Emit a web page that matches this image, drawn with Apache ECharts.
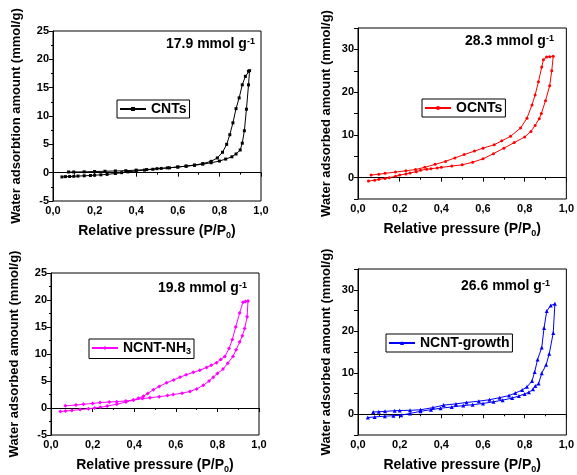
<!DOCTYPE html>
<html>
<head>
<meta charset="utf-8">
<script src="https://cdn.jsdelivr.net/npm/echarts@6/dist/echarts.min.js"></script>
<style>
  html, body { margin: 0; padding: 0; background: #fff; }
  #chart { width: 577px; height: 475px; }
</style>
</head>
<body>
<div id="chart"></div>
<script>
// Datos (P/P0, mmol/g)
const cntsAds = [[0.043,-0.75],[0.06,-0.7],[0.08,-0.68],[0.1,-0.65],[0.12,-0.6],[0.15,-0.55],[0.18,-0.5],[0.2,-0.45],[0.23,-0.38],[0.26,-0.3],[0.3,-0.15],[0.33,0],[0.36,0.15],[0.4,0.3],[0.44,0.45],[0.48,0.6],[0.52,0.75],[0.56,0.85],[0.6,1.0],[0.64,1.15],[0.68,1.3],[0.72,1.5],[0.76,1.75],[0.8,2.05],[0.83,2.4],[0.86,2.8],[0.88,3.3],[0.9,4.0],[0.91,5.2],[0.92,7.4],[0.93,11.2],[0.94,15.5],[0.945,18.0]];
const cntsDes = [[0.94,17.9],[0.925,17.0],[0.91,15.5],[0.895,13.2],[0.88,11.3],[0.865,8.8],[0.85,6.7],[0.835,5.0],[0.815,3.6],[0.79,2.6],[0.76,2.0],[0.72,1.6],[0.68,1.35],[0.64,1.15],[0.6,1.0],[0.55,0.85],[0.5,0.7],[0.45,0.55],[0.4,0.45],[0.35,0.35],[0.3,0.3],[0.25,0.25],[0.2,0.2],[0.15,0.15],[0.1,0.12],[0.075,0.12]];

const ocntsAds = [[0.05,-0.8],[0.08,-0.6],[0.1,-0.4],[0.13,-0.2],[0.15,0.0],[0.18,0.3],[0.2,0.6],[0.23,0.85],[0.25,1.1],[0.28,1.4],[0.3,1.7],[0.33,1.95],[0.35,2.1],[0.38,2.25],[0.4,2.4],[0.45,2.7],[0.5,3.0],[0.55,3.6],[0.6,4.4],[0.65,5.6],[0.7,6.9],[0.75,8.2],[0.8,9.5],[0.83,10.8],[0.85,12.2],[0.87,13.8],[0.88,15.0],[0.9,18.0],[0.92,21.5],[0.93,25.0],[0.937,28.4]];
const ocntsDes = [[0.92,28.3],[0.905,28.2],[0.89,27.6],[0.882,25.9],[0.866,22.4],[0.85,19.3],[0.835,17.0],[0.811,13.9],[0.78,11.6],[0.732,9.65],[0.69,8.6],[0.654,7.7],[0.6,6.9],[0.559,6.2],[0.51,5.4],[0.465,4.6],[0.42,3.8],[0.37,3.1],[0.32,2.4],[0.276,1.9],[0.23,1.6],[0.18,1.3],[0.13,1.0],[0.1,0.8],[0.063,0.6]];

const nh3Ads = [[0.045,-0.65],[0.07,-0.55],[0.1,-0.45],[0.14,-0.3],[0.18,-0.15],[0.21,0.0],[0.237,0.12],[0.27,0.35],[0.316,0.7],[0.36,1.1],[0.396,1.47],[0.44,1.75],[0.476,1.9],[0.52,2.1],[0.56,2.3],[0.588,2.5],[0.63,2.75],[0.668,3.07],[0.7,3.5],[0.732,4.2],[0.76,5.0],[0.78,5.7],[0.8,6.4],[0.827,7.2],[0.85,8.3],[0.875,9.55],[0.89,10.8],[0.907,12.2],[0.92,13.4],[0.931,14.7],[0.943,16.9],[0.947,19.8]];
const nh3Des = [[0.935,19.7],[0.923,19.6],[0.907,17.6],[0.888,15.0],[0.872,12.7],[0.856,11.0],[0.836,9.55],[0.816,9.0],[0.796,8.4],[0.77,7.9],[0.748,7.5],[0.715,7.0],[0.684,6.6],[0.65,6.15],[0.62,5.7],[0.59,5.2],[0.556,4.66],[0.52,4.0],[0.492,3.36],[0.465,2.7],[0.444,2.18],[0.42,1.8],[0.396,1.47],[0.36,1.3],[0.316,1.18],[0.28,1.1],[0.236,1.0],[0.2,0.85],[0.156,0.7],[0.12,0.55],[0.069,0.4]];

const growthAds = [[0.047,-0.8],[0.08,-0.65],[0.129,-0.46],[0.17,-0.35],[0.207,-0.23],[0.25,0.2],[0.3,0.7],[0.35,1.1],[0.396,1.46],[0.45,1.75],[0.505,2.08],[0.55,2.3],[0.6,2.6],[0.65,3.0],[0.694,3.4],[0.74,3.9],[0.772,4.4],[0.8,4.9],[0.82,5.3],[0.84,6.0],[0.851,6.8],[0.867,7.4],[0.882,9.9],[0.903,11.9],[0.918,14.6],[0.937,19.6],[0.945,26.6]];
const growthDes = [[0.925,26.2],[0.906,24.9],[0.893,20.8],[0.882,16.1],[0.862,13.2],[0.848,10.2],[0.835,8.0],[0.811,6.6],[0.788,5.85],[0.755,5.1],[0.725,4.5],[0.68,4.0],[0.631,3.5],[0.58,3.15],[0.521,2.85],[0.47,2.5],[0.411,2.2],[0.36,1.6],[0.3,1.08],[0.25,0.95],[0.2,0.9],[0.176,0.85],[0.13,0.7],[0.1,0.6],[0.073,0.54]];

const sampleNames = ["CNTs", "OCNTs", "NCNT-NH3", "NCNT-growth"];
const sampleColors = ["#000000", "#ff0000", "#ff00ff", "#0000ff"];
const sampleSymbols = ["rect", "circle", "diamond", "triangle"];
const capacityLabels = ["17.9 mmol g", "28.3 mmol g", "19.8 mmol g", "26.6 mmol g"];
const yTitles = [
  "Water adsorbtion amount (mmol/g)",
  "Water adsorbed amount (mmol/g)",
  "Water adsorbed amount (mmol/g)",
  "Water adsorbed amount (mmol/g)"
];
const yMax = [25, 35, 25, 35];

const loops = [
  cntsAds.concat(cntsDes),
  ocntsAds.concat(ocntsDes),
  nh3Ads.concat(nh3Des),
  growthAds.concat(growthDes)
];

const FONT = "Liberation Sans";

// Posición de cada panel
const grids = [
  { left: 53, top: 31, width: 208, height: 170 },
  { left: 358, top: 28, width: 212, height: 171 },
  { left: 51, top: 273, width: 208, height: 169 },
  { left: 358, top: 269, width: 212, height: 172 }
];
const legendPos = [
  { left: 117, top: 100 },
  { left: 422, top: 99 },
  { left: 89, top: 339 },
  { left: 386, top: 334 }
];
const annotPos = [
  { left: 166, top: 37 },
  { left: 465, top: 34 },
  { left: 158, top: 281 },
  { left: 461, top: 279 }
];

const chart = echarts.init(document.getElementById("chart"));

const xAxes = grids.map((g, i) => ({
  type: "value",
  gridIndex: i,
  min: 0,
  max: 1,
  interval: 0.2,
  name: "Relative pressure (P/P{sub|0})",
  nameLocation: "middle",
  nameGap: 22,
  nameTextStyle: {
    fontFamily: FONT, fontSize: 14, fontWeight: "bold", color: "#000",
    rich: { sub: { fontFamily: FONT, fontSize: 9, fontWeight: "bold", color: "#000", verticalAlign: "bottom", padding: [8, 0, 0, 0] } }
  },
  axisLine: { show: true, lineStyle: { color: "#000", width: 1 } },
  axisTick: { show: true, inside: false, length: 4, lineStyle: { color: "#000" } },
  minorTick: { show: true, splitNumber: 2, length: 2, lineStyle: { color: "#000" } },
  splitLine: { show: false },
  axisLabel: {
    margin: 4, fontFamily: FONT, fontSize: 11, fontWeight: "bold", color: "#000",
    formatter: (v) => v.toFixed(1).replace(".", ",")
  }
}));

const yAxes = grids.map((g, i) => ({
  type: "value",
  gridIndex: i,
  min: -5,
  max: yMax[i],
  interval: 5,
  name: yTitles[i],
  nameLocation: "middle",
  nameGap: i % 2 === 0 ? 30 : 25,
  nameTextStyle: { fontFamily: FONT, fontSize: 13, fontWeight: "bold", color: "#000" },
  axisLine: { show: true, onZero: false, lineStyle: { color: "#000", width: 1 } },
  axisTick: { show: true, inside: false, length: 4, lineStyle: { color: "#000" } },
  minorTick: { show: i % 2 === 0, splitNumber: 2, length: 2, lineStyle: { color: "#000" } },
  splitLine: { show: false },
  axisLabel: {
    margin: 4, fontFamily: FONT, fontSize: 11, fontWeight: "bold", color: "#000",
    formatter: (v) => (yMax[i] === 35 && v % 10 !== 0 ? "" : String(v))
  }
}));

const series = loops.map((data, i) => ({
  name: sampleNames[i],
  type: "line",
  xAxisIndex: i,
  yAxisIndex: i,
  data: data,
  symbol: sampleSymbols[i],
  symbolSize: i >= 2 ? 4 : 3,
  showSymbol: true,
  lineStyle: { color: sampleColors[i], width: 1 },
  itemStyle: { color: sampleColors[i] },
  animation: false
}));

const legends = legendPos.map((p, i) => ({
  data: [sampleNames[i]],
  left: p.left,
  top: p.top,
  orient: "horizontal",
  padding: [2, 3, 2, 2],
  borderColor: "#000",
  borderWidth: 1,
  itemWidth: 26,
  itemHeight: 5,
  selectedMode: false,
  textStyle: {
    fontFamily: FONT, fontSize: 14, fontWeight: "bold", color: "#000",
    rich: {
      b: { fontFamily: FONT, fontSize: 14, fontWeight: "bold", color: "#000" },
      sub: { fontFamily: FONT, fontSize: 9, fontWeight: "bold", color: "#000", verticalAlign: "bottom", padding: [8, 0, 0, 0] }
    }
  },
  formatter: (name) => (name === "NCNT-NH3" ? "{b|NCNT-NH}{sub|3}" : "{b|" + name + "}")
}));

const graphics = annotPos.map((p, i) => ({
  type: "text",
  left: p.left,
  top: p.top,
  style: {
    text: "{a|" + capacityLabels[i] + "}{s|-1}",
    fill: "#000",
    rich: {
      a: { fontFamily: FONT, fontSize: 14, fontWeight: "bold", fill: "#000", verticalAlign: "bottom" },
      s: { fontFamily: FONT, fontSize: 9, fontWeight: "bold", fill: "#000", verticalAlign: "top" }
    }
  }
}));

const option = {
  backgroundColor: "#fff",
  animation: false,
  grid: grids.map((g) => ({
    left: g.left, top: g.top, width: g.width, height: g.height,
    show: true, borderColor: "#000", borderWidth: 1, backgroundColor: "transparent"
  })),
  xAxis: xAxes,
  yAxis: yAxes,
  legend: legends,
  graphic: graphics,
  series: series
};

chart.setOption(option);
</script>
</body>
</html>
